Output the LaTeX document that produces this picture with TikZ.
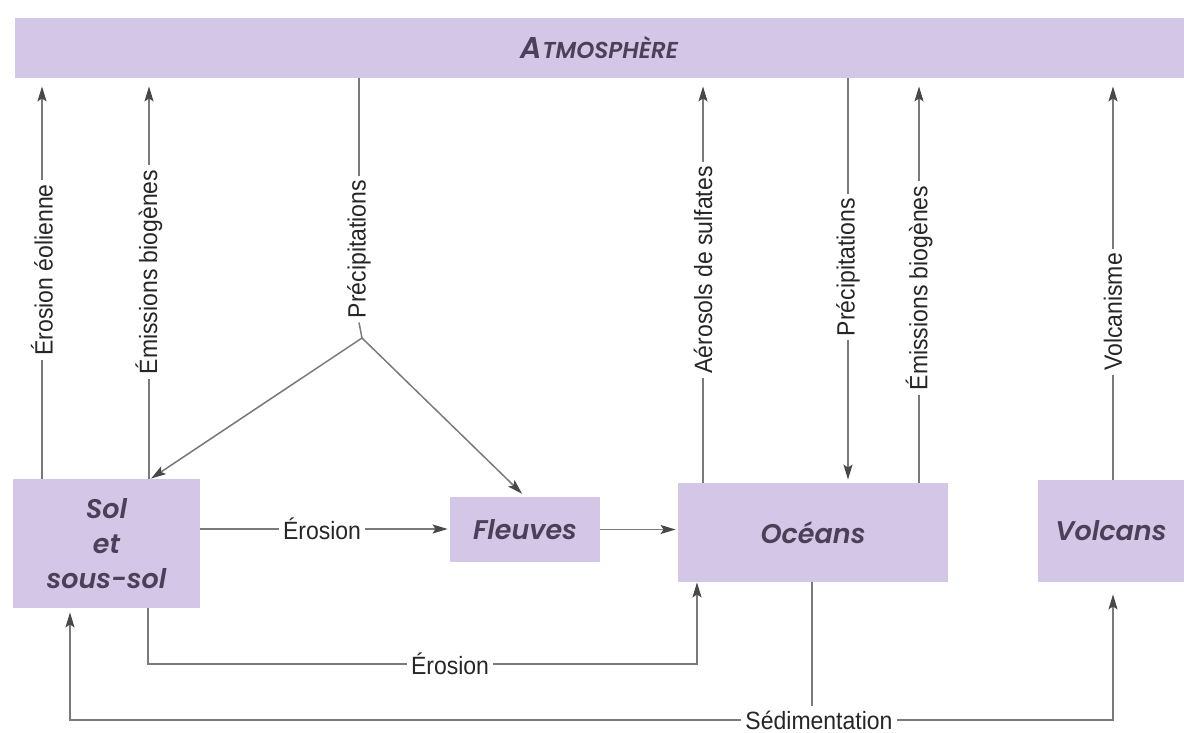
\documentclass[tikz,border=0pt]{standalone}
\usepackage{fontspec}
\setmainfont{Liberation Sans}[FakeStretch=0.92]
\newfontfamily\boxfont{Poppins}[UprightFont={* SemiBold}, ItalicFont={* SemiBold Italic}]
\usetikzlibrary{arrows.meta}
\definecolor{boxfill}{HTML}{D4C6E7}
\definecolor{boxtext}{HTML}{4A4058}
\definecolor{linegray}{HTML}{7A7A7A}
\definecolor{tipgray}{HTML}{484848}
\tikzset{
  res/.style={fill=boxfill, inner sep=0pt, align=center, text=boxtext,
    font=\boxfont\itshape\fontsize{13.5}{17.5}\selectfont},
  lbl/.style={inner sep=2pt, text=black!85, font=\fontsize{12.5}{14}\selectfont},
  vlbl/.style={lbl, rotate=90},
  ln/.style={draw=linegray, line width=0.75pt},
  flow/.style={ln, -{Stealth[length=7.5pt, width=4.5pt, inset=1.5pt, color=tipgray]}},
}
\begin{document}
\begin{tikzpicture}[x=0.5pt, y=-0.5pt]
\useasboundingbox (0,0) rectangle (1184,733);
\node[res, minimum width=584.5pt, minimum height=30pt] (atm) at (599.5,48)
  {{\fontsize{15}{16}\selectfont A}{\fontsize{11.5}{12.5}\selectfont TMOSPHÈRE}};
\node[res, minimum width=93.5pt, minimum height=64.5pt] (sol) at (106.5,543.5) {Sol\\et\\sous-sol};
\node[res, minimum width=75pt, minimum height=32.5pt] (fleuves) at (525,529.5) {Fleuves};
\node[res, minimum width=135pt, minimum height=49.5pt] (oceans) at (813,532.5) {Océans};
\node[res, minimum width=73pt, minimum height=51pt] (volcans) at (1111,531) {Volcans};
\node[vlbl] (eol) at (42,270) {Érosion éolienne};
\node[vlbl] (emi1) at (149,272) {Émissions biogènes};
\node[vlbl] (prec1) at (359,249) {Précipitations};
\node[vlbl] (aer) at (703,270) {Aérosols de sulfates};
\node[vlbl] (prec2) at (848,267) {Précipitations};
\node[vlbl] (emi2) at (919,288) {Émissions biogènes};
\node[vlbl] (volc) at (1113,312) {Volcanisme};
\node[lbl] (ero1) at (322,529) {Érosion};
\node[lbl] (ero2) at (450,664) {Érosion};
\node[lbl] (sed) at (819,720) {Sédimentation};
\coordinate (split) at (362,338);
\draw[ln] (sol.north -| eol) -- (eol.west);
\draw[flow, shorten >=4pt] (eol.east) -- (eol |- atm.south);
\draw[ln] (sol.north -| emi1) -- (emi1.west);
\draw[flow, shorten >=4pt] (emi1.east) -- (emi1 |- atm.south);
\draw[ln] (prec1 |- atm.south) -- (prec1.east);
\draw[ln] (prec1.west) -- (split);
\draw[flow] (split) -- (sol.north -| 151,0);
\draw[flow, shorten >=2pt] (split) -- (fleuves.north);
\draw[ln] (oceans.north -| aer) -- (aer.west);
\draw[flow, shorten >=4pt] (aer.east) -- (aer |- atm.south);
\draw[ln] (prec2 |- atm.south) -- (prec2.east);
\draw[flow, shorten >=1.5pt] (prec2.west) -- (oceans.north -| prec2);
\draw[ln] (oceans.north -| emi2) -- (emi2.west);
\draw[flow, shorten >=4pt] (emi2.east) -- (emi2 |- atm.south);
\draw[ln] (volcans.north -| volc) -- (volc.west);
\draw[flow, shorten >=4pt] (volc.east) -- (volc |- atm.south);
\draw[ln] (sol.east |- ero1) -- (ero1.west);
\draw[flow, shorten >=1pt] (ero1.east) -- (fleuves.west |- ero1);
\draw[flow, shorten >=1pt] (fleuves.east) -- (oceans.west |- fleuves.east);
\draw[ln] (sol.south -| 148,0) |- (ero2.west);
\draw[flow] (ero2.east) -| (oceans.south -| 697,0);
\draw[ln] (oceans.south -| 812,0) -- (sed.north -| 812,0);
\draw[flow, shorten >=2pt] (sed.west) -| (sol.south -| 70,0);
\draw[flow, shorten >=6pt] (sed.east) -| (volcans.south -| 1113,0);
\end{tikzpicture}
\end{document}
